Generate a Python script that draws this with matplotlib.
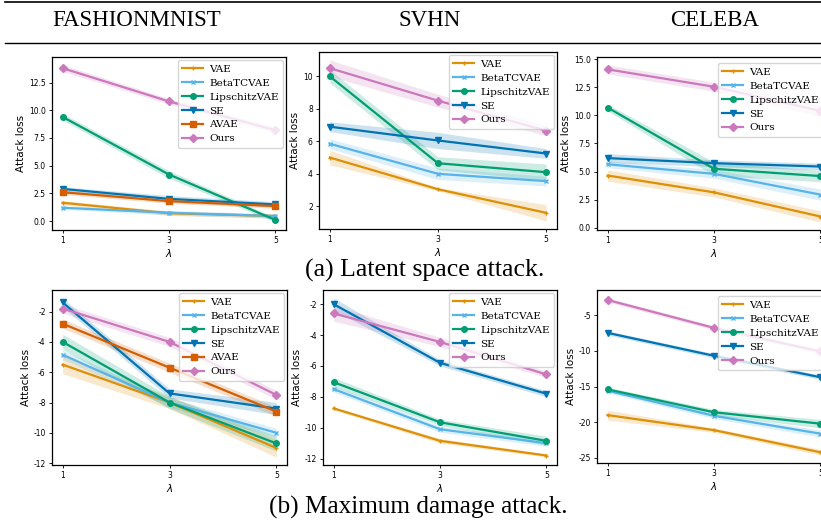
import numpy as np
import matplotlib
matplotlib.use("Agg")
import matplotlib.pyplot as plt
from matplotlib.lines import Line2D

# ----- data -----
lams = [1, 3, 5]
datasets = ["FASHIONMNIST", "SVHN", "CELEBA"]
methods = ["VAE", "BetaTCVAE", "LipschitzVAE", "SE", "AVAE", "Ours"]

# (a) latent space attack: means and std band half-widths
fm_lat_mean = {"VAE": [1.65, 0.7, 0.45], "BetaTCVAE": [1.2, 0.75, 0.45],
               "LipschitzVAE": [9.4, 4.2, 0.1], "SE": [2.9, 2.0, 1.5],
               "AVAE": [2.6, 1.8, 1.35], "Ours": [13.8, 10.8, 8.2]}
fm_lat_sd = {"VAE": [0.2, 0.2, 0.2], "BetaTCVAE": [0.15, 0.2, 0.2],
             "LipschitzVAE": [0.3, 0.35, 0.2], "SE": [0.2, 0.3, 0.25],
             "AVAE": [0.2, 0.2, 0.2], "Ours": [0.3, 0.25, 0.25]}

svhn_lat_mean = {"VAE": [5.0, 3.05, 1.6], "BetaTCVAE": [5.85, 4.0, 3.55],
                 "LipschitzVAE": [10.0, 4.65, 4.1], "SE": [6.9, 6.05, 5.25],
                 "Ours": [10.5, 8.5, 6.65]}
svhn_lat_sd = {"VAE": [0.45, 0.1, 0.5], "BetaTCVAE": [0.3, 0.35, 0.3],
               "LipschitzVAE": [0.4, 0.4, 0.5], "SE": [0.3, 0.5, 0.3],
               "Ours": [0.5, 0.4, 0.3]}

celeba_lat_mean = {"VAE": [4.65, 3.15, 1.0], "BetaTCVAE": [5.65, 4.8, 2.95],
                   "LipschitzVAE": [10.7, 5.25, 4.6], "SE": [6.2, 5.75, 5.45],
                   "Ours": [14.1, 12.55, 10.4]}
celeba_lat_sd = {"VAE": [0.5, 0.4, 0.5], "BetaTCVAE": [0.3, 0.4, 0.5],
                 "LipschitzVAE": [0.3, 0.6, 0.5], "SE": [0.4, 0.3, 0.3],
                 "Ours": [0.4, 0.4, 0.5]}

# (b) maximum damage attack
fm_dmg_mean = {"VAE": [-5.5, -8.0, -11.0], "BetaTCVAE": [-4.85, -8.0, -10.0],
               "LipschitzVAE": [-4.0, -8.0, -10.7], "SE": [-1.4, -7.4, -8.4],
               "AVAE": [-2.8, -5.7, -8.6], "Ours": [-1.8, -4.0, -7.5]}
fm_dmg_sd = {"VAE": [0.6, 0.4, 0.6], "BetaTCVAE": [0.3, 0.3, 0.3],
             "LipschitzVAE": [0.5, 0.4, 0.5], "SE": [0.3, 0.3, 0.4],
             "AVAE": [0.3, 0.3, 0.3], "Ours": [0.3, 0.3, 0.3]}

svhn_dmg_mean = {"VAE": [-8.75, -10.85, -11.8], "BetaTCVAE": [-7.5, -10.1, -11.0],
                 "LipschitzVAE": [-7.05, -9.65, -10.85], "SE": [-2.0, -5.8, -7.8],
                 "Ours": [-2.6, -4.45, -6.55]}
svhn_dmg_sd = {"VAE": [0.1, 0.15, 0.1], "BetaTCVAE": [0.2, 0.2, 0.2],
               "LipschitzVAE": [0.3, 0.2, 0.3], "SE": [0.4, 0.2, 0.2],
               "Ours": [0.5, 0.3, 0.2]}

celeba_dmg_mean = {"VAE": [-19.0, -21.1, -24.2], "BetaTCVAE": [-15.6, -19.1, -21.6],
                   "LipschitzVAE": [-15.4, -18.6, -20.2], "SE": [-7.5, -10.7, -13.7],
                   "Ours": [-2.9, -6.8, -10.1]}
celeba_dmg_sd = {"VAE": [0.7, 0.3, 0.4], "BetaTCVAE": [0.3, 0.4, 0.5],
                 "LipschitzVAE": [0.3, 0.4, 0.6], "SE": [0.3, 0.3, 0.3],
                 "Ours": [0.3, 0.3, 0.3]}

# ----- styles -----
colors = {"VAE": "#de8f05", "BetaTCVAE": "#56b4e9", "LipschitzVAE": "#029e73",
          "SE": "#0173b2", "AVAE": "#d55e00", "Ours": "#cc78bc"}
markers = {"VAE": "+", "BetaTCVAE": "x", "LipschitzVAE": "o",
           "SE": "v", "AVAE": "s", "Ours": "D"}
msizes = {"VAE": 3.5, "BetaTCVAE": 3, "LipschitzVAE": 4,
          "SE": 4.5, "AVAE": 4, "Ours": 4}

W, H = 821, 523
fig = plt.figure(figsize=(W / 100, H / 100), dpi=100)


def box(x0, x1, ytop, ybot):
    return [x0 / W, 1 - ybot / H, (x1 - x0) / W, (ybot - ytop) / H]


panels = [
    (fm_lat_mean, fm_lat_sd, box(52, 286, 57, 230), [0, 2.5, 5, 7.5, 10, 12.5], "%.1f", False),
    (svhn_lat_mean, svhn_lat_sd, box(319, 557, 52, 229), [2, 4, 6, 8, 10], "%d", False),
    (celeba_lat_mean, celeba_lat_sd, box(597, 831, 57, 230), [0, 2.5, 5, 7.5, 10, 12.5, 15], "%.1f", True),
    (fm_dmg_mean, fm_dmg_sd, box(52, 287, 290, 465), [-2, -4, -6, -8, -10, -12], "%d", False),
    (svhn_dmg_mean, svhn_dmg_sd, box(323, 557, 290, 465), [-2, -4, -6, -8, -10, -12], "%d", False),
    (celeba_dmg_mean, celeba_dmg_sd, box(597, 831, 290, 463), [-5, -10, -15, -20, -25], "%d", True),
]

for mean, sd, pos, yt, fmt, edge in panels:
    ax = fig.add_axes(pos)
    for m in methods:
        if m not in mean:
            continue
        mu = np.array(mean[m])
        s = np.array(sd[m])
        ax.fill_between(lams, mu - s, mu + s, color=colors[m], alpha=0.2, linewidth=0)
        ax.plot(lams, mu, color=colors[m], marker=markers[m], markersize=msizes[m],
                linewidth=1.6, label=m)
    ax.set_xticks(lams)
    ax.set_yticks(yt)
    ax.set_yticklabels([fmt % v for v in yt])
    ax.tick_params(labelsize=5.5, length=2.5, width=0.6, pad=2)
    ax.set_xlabel(r"$\lambda$", fontsize=7.5, labelpad=1)
    ax.set_ylabel("Attack loss", fontsize=7.5, labelpad=2)
    for sp in ax.spines.values():
        sp.set_linewidth(0.9)
    leg_kw = dict(loc="upper right", prop={"family": "DejaVu Serif", "size": 7.5},
                  handlelength=2.0, handletextpad=0.6, labelspacing=0.45,
                  borderpad=0.4, borderaxespad=0.3, framealpha=0.8)
    if edge:
        # the right column is cropped by the page edge; keep the legend text visible
        top = pos[1] + pos[3] - 3 / H
        ax.legend(bbox_to_anchor=(826 / W, top), bbox_transform=fig.transFigure, **leg_kw)
    else:
        ax.legend(**leg_kw)

# ----- header and captions -----
for name, xc in zip(datasets, [137, 430, 715]):
    fig.text(xc / W, 1 - 20 / H, name, ha="center", va="center",
             family="Liberation Serif", fontsize=16.5)
fig.add_artist(Line2D([5 / W, 1], [1 - 2 / H, 1 - 2 / H], color="black", linewidth=1.2))
fig.add_artist(Line2D([5 / W, 1], [1 - 43 / H, 1 - 43 / H], color="black", linewidth=1.0))

fig.text(425 / W, 1 - 270 / H, "(a) Latent space attack.", ha="center", va="center",
         family="Liberation Serif", fontsize=18.5)
fig.text(418 / W, 1 - 507 / H, "(b) Maximum damage attack.", ha="center", va="center",
         family="Liberation Serif", fontsize=18.2)

fig.savefig("out.png", dpi=100)
